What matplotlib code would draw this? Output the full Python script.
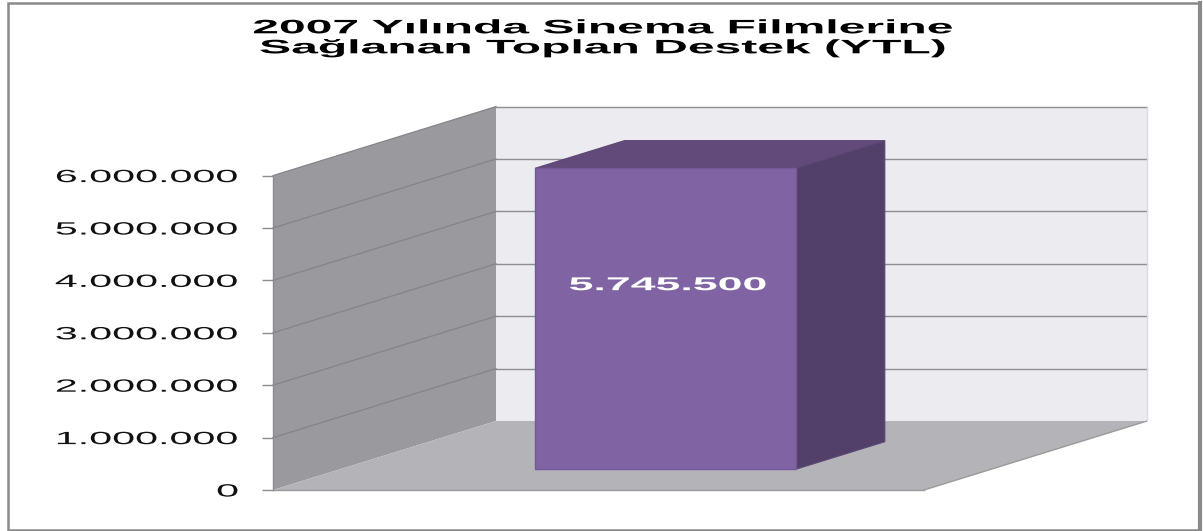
import matplotlib
matplotlib.use("Agg")
import matplotlib.pyplot as plt
from matplotlib.patches import Polygon, Rectangle
from matplotlib.lines import Line2D
from matplotlib.patheffects import AbstractPathEffect
from matplotlib.transforms import Affine2D
from matplotlib.ticker import FixedLocator, FixedFormatter

# ---------------- data ----------------
categories = ["2007"]
values = [5745500]
y_ticks = [0, 1000000, 2000000, 3000000, 4000000, 5000000, 6000000]
tick_labels = ["0", "1.000.000", "2.000.000", "3.000.000",
               "4.000.000", "5.000.000", "6.000.000"]
value_labels = ["5.745.500"]
title_lines = ["2007 Yılında Sinema Filmlerine", "Sağlanan Toplan Destek (YTL)"]

# ---------------- style ----------------
W, H = 1203, 531
FONT = "Liberation Sans"
C_LEFT = "#9a999e"
C_FLOOR = "#b4b3b8"
C_BACK = "#ecebf0"
C_GRID = "#8e8e8e"
C_FRONT = "#7f63a2"
C_SIDE = "#523f6a"
C_TOP = "#624b7b"


class StretchX(AbstractPathEffect):
    """Draws the text glyphs horizontally stretched (the source image is stretched)."""
    def __init__(self, sx, anchor="center"):
        super().__init__()
        self.sx = sx
        self.anchor = anchor

    def draw_path(self, renderer, gc, tpath, affine, rgbFace=None):
        bb = tpath.get_extents(affine)
        if self.anchor == "center":
            cx = 0.5 * (bb.x0 + bb.x1)
        elif self.anchor == "right":
            cx = bb.x1
        else:
            cx = bb.x0
        aff = affine + Affine2D().translate(-cx, 0).scale(self.sx, 1).translate(cx, 0)
        renderer.draw_path(gc, tpath, aff, rgbFace)


fig = plt.figure(figsize=(W / 100, H / 100), dpi=100)
fig.patch.set_facecolor("white")

# axes: x in category-width units, y in value units
floor_px = 651.0        # pixel width of one category floor
ax_left, ax_right = 273, 1147
ax_bottom, ax_top = 490, 106
ax = fig.add_axes([ax_left / W, (H - ax_bottom) / H,
                   (ax_right - ax_left) / W, (ax_bottom - ax_top) / H])
ax.set_xlim(0, (ax_right - ax_left) / floor_px)
ax.set_ylim(0, (ax_bottom - ax_top) / 52.4 * 1e6)
ax.patch.set_visible(False)

DX = 223 / floor_px            # depth offset in x (category units)
DY = 69 / 52.4 * 1e6           # depth offset in y (value units)
ncat = len(categories)
ymax = y_ticks[-1]

def poly(pts, fc, ec="none", lw=0.0, z=1):
    p = Polygon(pts, closed=True, facecolor=fc, edgecolor=ec, linewidth=lw,
                zorder=z, clip_on=False, joinstyle="miter")
    ax.add_patch(p)

# walls and floor
poly([(0, 0), (DX, DY), (DX, ymax + DY), (0, ymax)], C_LEFT, z=1)
poly([(DX, DY), (ncat + DX, DY), (ncat + DX, ymax + DY), (DX, ymax + DY)], C_BACK, z=1)
poly([(0, 0), (ncat, 0), (ncat + DX, DY), (DX, DY)], C_FLOOR, z=1)

# gridlines
for v in y_ticks[1:]:
    ax.plot([0, DX], [v, v + DY], color="#85848a", lw=0.9, zorder=2, clip_on=False)
    ax.plot([DX, ncat + DX], [v + DY, v + DY], color=C_GRID, lw=1.0, zorder=2, clip_on=False)
# floor edges
ax.plot([0, ncat], [0, 0], color="#9a9a9a", lw=1.0, zorder=2, clip_on=False)
ax.plot([ncat, ncat + DX], [0, DY], color="#9a9a9a", lw=1.0, zorder=2, clip_on=False)
ax.plot([ncat + DX, ncat + DX], [DY, ymax + DY], color="#dcdbe0", lw=1.0, zorder=2, clip_on=False)

# bars
bw, d0, d1 = 0.4, 0.3, 0.7
for i, (cat, val, lab) in enumerate(zip(categories, values, value_labels)):
    x0 = i + 0.5 - bw / 2
    x1 = i + 0.5 + bw / 2
    fx0, fx1 = x0 + d0 * DX, x1 + d0 * DX
    bx0, bx1 = x0 + d1 * DX, x1 + d1 * DX
    fy, by = d0 * DY, d1 * DY
    poly([(fx1, fy), (bx1, by), (bx1, by + val), (fx1, fy + val)], C_SIDE,
         ec="#5a4775", lw=0.8, z=3)
    poly([(fx0, fy + val), (fx1, fy + val), (bx1, by + val), (bx0, by + val)], C_TOP,
         ec="#5c4674", lw=0.8, z=3)
    poly([(fx0, fy), (fx1, fy), (fx1, fy + val), (fx0, fy + val)], C_FRONT,
         ec="#73599a", lw=1.0, z=4)
    t = ax.text(0.5 * (fx0 + fx1) + 0.004, fy + val * 0.61, lab, ha="center", va="center",
                color="white", fontsize=13.4, fontweight="bold", family=FONT, zorder=6)
    t.set_path_effects([StretchX(2.4, "center")])

# value axis
for s in ["top", "right", "bottom"]:
    ax.spines[s].set_visible(False)
ax.spines["left"].set_bounds(0, ymax)
ax.spines["left"].set_color("#8c8c8c")
ax.spines["left"].set_linewidth(1.0)
ax.spines["left"].set_zorder(5)
ax.yaxis.set_major_locator(FixedLocator(y_ticks))
ax.yaxis.set_major_formatter(FixedFormatter(tick_labels))
ax.tick_params(axis="y", direction="out", length=8, width=1.0, color="#8c8c8c",
               pad=17, labelsize=12.75, labelcolor="#111111")
ax.set_xticks([])
for lbl in ax.get_yticklabels():
    lbl.set_family(FONT)
    lbl.set_path_effects([StretchX(2.33, "right")])

# title
for k, line in enumerate(title_lines):
    t = fig.text(603 / W, (H - (33.3 + 20 * k)) / H, line, ha="center", va="baseline",
                 fontsize=14, fontweight="bold", family=FONT, color="black")
    t.set_path_effects([StretchX(2.47, "center")])

# chart border
fig.patches.append(Rectangle((8 / W, 1 - 530 / H), (1199 - 8) / W, (530 - 3) / H,
                             transform=fig.transFigure, fill=False,
                             edgecolor="#8a8a8a", linewidth=1.8, zorder=10))
fig.lines.append(Line2D([1200 / W, 1200 / W], [1 - 530 / H, 1 - 3 / H],
                        transform=fig.transFigure, color="#8a8a8a", linewidth=3.0, zorder=10))

fig.savefig("out.png", dpi=100, facecolor="white")
